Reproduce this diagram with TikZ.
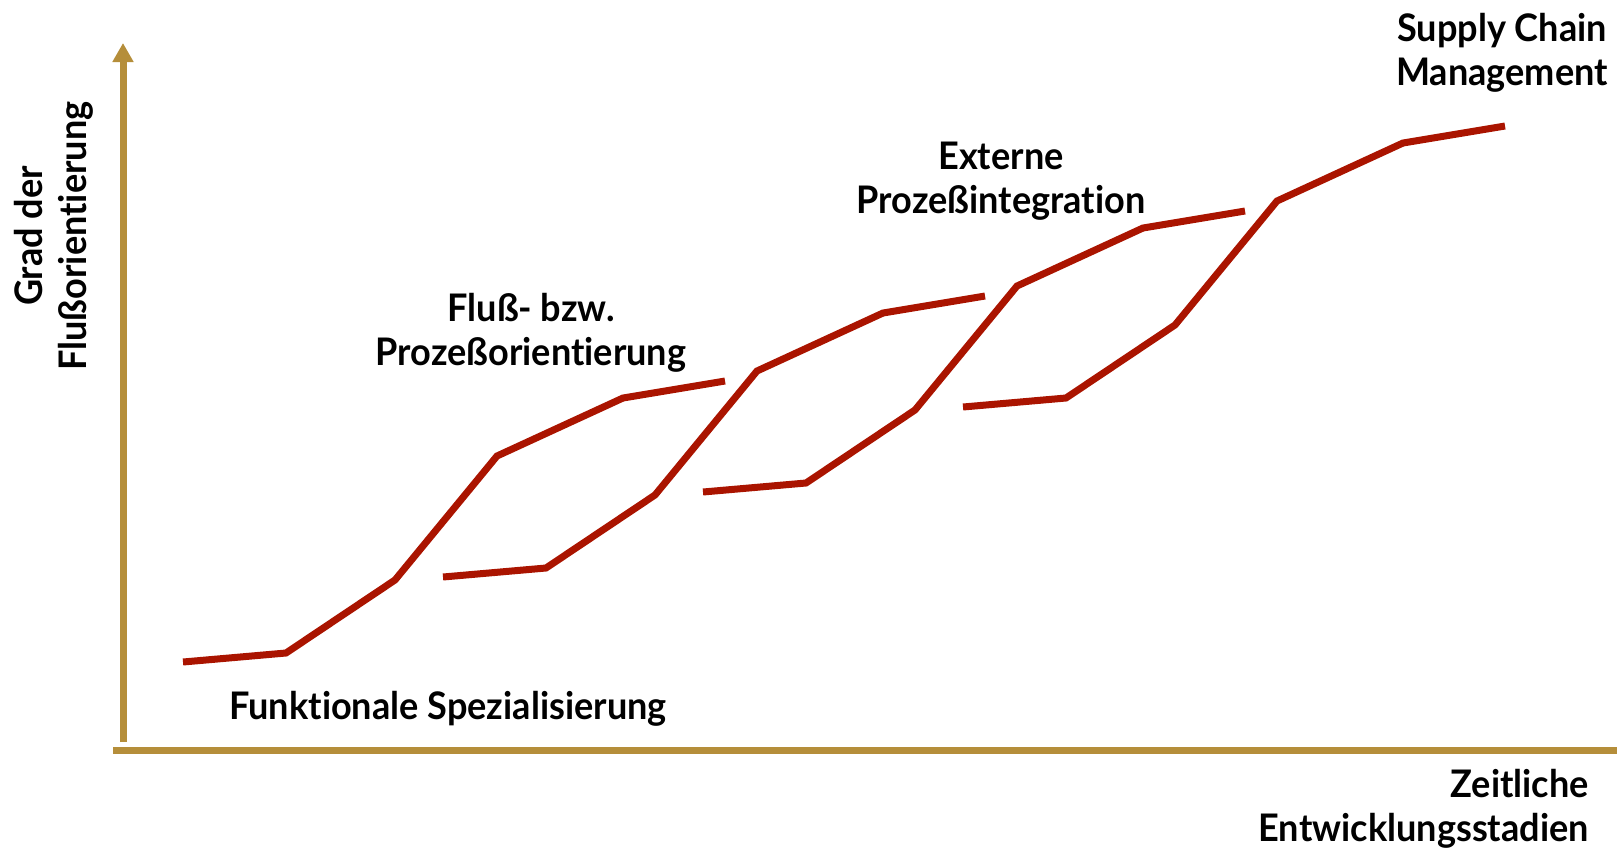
\documentclass[tikz,border=0pt]{standalone}
\usepackage{fontspec}
\setmainfont{Lato}[Ligatures=NoCommon, FakeStretch=0.95]
\usetikzlibrary{arrows.meta}
\definecolor{curvered}{RGB}{170,20,0}
\definecolor{axisgold}{RGB}{181,142,58}
\begin{document}
\begin{tikzpicture}[x=1pt,y=-1pt,
  axis/.style={line width=7pt, draw=axisgold},
  curve/.style={line width=7pt, draw=curvered, line join=miter},
  lbl/.style={font=\bfseries\fontsize{38}{43.5}\selectfont, align=center, inner sep=0pt, text=black}]
\useasboundingbox (0,0) rectangle (1617,847);
% axes
\coordinate (ybot) at (123,742);
\coordinate (ytip) at (123,43);
\coordinate (xleft) at (113,750);
\coordinate (xright) at (1617,750);
\draw[axis, -{Triangle[width=20pt,length=19pt]}] (ybot) -- (ytip);
\draw[axis] (xleft) -- (xright);
% curves
\foreach \i in {0,...,3}{
  \begin{scope}[shift={(260*\i,-85*\i)}]
    \draw[curve] (183,662) -- (286,653) -- (395,580) -- (497,456) -- (623,398) -- (725,381);
  \end{scope}
}
% labels
\node[lbl] (scm) at (1502,53) {Supply Chain\\Management};
\node[lbl] (ext) at (1001,181) {Externe\\Prozeßintegration};
\node[lbl] (flu) at (531,333) {Fluß- bzw.\\Prozeßorientierung};
\node[lbl] (fun) at (448,709) {Funktionale Spezialisierung};
\node[lbl, align=right, anchor=east] (zeit) at (1589,809) {Zeitliche\\Entwicklungsstadien};
\node[lbl, rotate=90] (grad) at (54,236) {Grad der\\Flußorientierung};
\end{tikzpicture}
\end{document}
